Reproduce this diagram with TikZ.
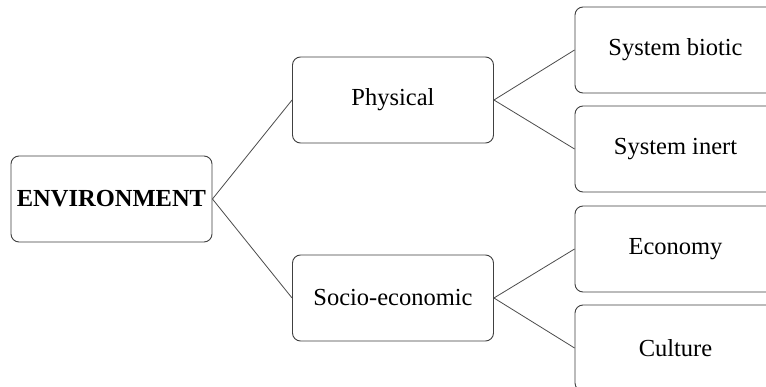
\documentclass[tikz,border=0pt]{standalone}
\usepackage{fontspec}
\setmainfont{Liberation Serif}

\tikzset{
  box/.style={draw=black!75, line width=0.9pt, rounded corners=8pt,
     minimum width=201pt, minimum height=86pt, inner sep=0pt,
     font=\fontsize{24.5}{29}\selectfont},
  link/.style={draw=black!70, line width=0.8pt}
}

\begin{document}
\begin{tikzpicture}[x=1pt,y=-1pt]
\clip (0,0) rectangle (766,387);
\useasboundingbox (0,0) rectangle (766,387);
\fill [white] (0,0) rectangle (766,387);
% root and first level
\node [box] (env) at (111.5,199) {\textbf{ENVIRONMENT}};
\node [box] (phys) at (393,100) {Physical};
\node [box] (socio) at (393,298) {Socio-economic};
% second level
\node [box] (biotic) at (675.5,50) {System biotic};
\node [box] (inert) at (675.5,149) {System inert};
\node [box] (econ) at (675.5,249) {Economy};
\node [box] (cult) at (675.5,348) {Culture};
% connectors
\draw [link] (env.east) -- (phys.west);
\draw [link] (env.east) -- (socio.west);
\draw [link] (phys.east) -- (biotic.west);
\draw [link] (phys.east) -- (inert.west);
\draw [link] (socio.east) -- (econ.west);
\draw [link] (socio.east) -- (cult.west);
\end{tikzpicture}
\end{document}
